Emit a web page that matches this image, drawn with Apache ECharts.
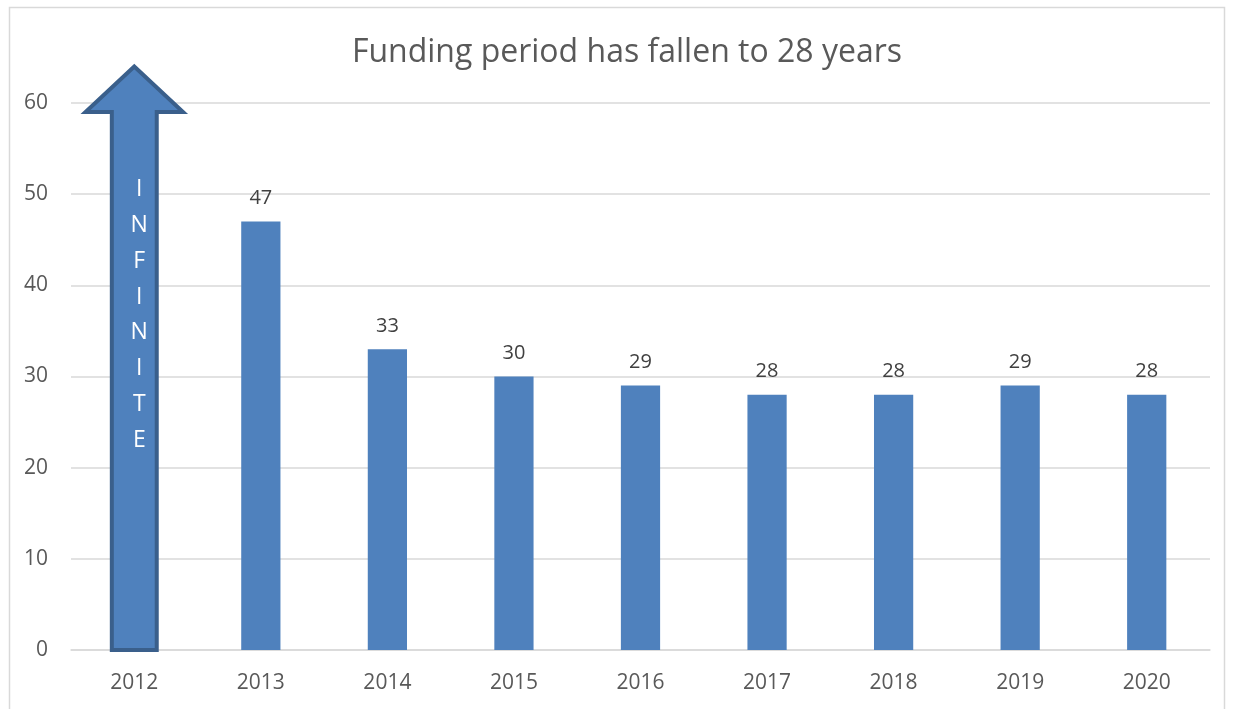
<!DOCTYPE html>
<html>
<head>
<meta charset="utf-8">
<script src="https://cdn.jsdelivr.net/npm/echarts@6/dist/echarts.min.js"></script>
<style>
html,body{margin:0;padding:0;background:#fff;}
#c{width:1233px;height:709px;}
</style>
</head>
<body>
<div id="c"></div>
<script>
const titleText = 'Funding period has fallen to 28 years';
const years = ['2012','2013','2014','2015','2016','2017','2018','2019','2020'];
const periods = [null, 47, 33, 30, 29, 28, 28, 29, 28];
const yTicks = [0, 10, 20, 30, 40, 50, 60];
// "Infinite" arrow for 2012: tip value and head base value on the y scale
const infiniteYear = '2012';
const arrowTip = 64;
const arrowHeadBase = 59;
const arrowText = 'INFINITE';

const chart = echarts.init(document.getElementById('c'), null, {renderer: 'canvas'});
const FONT = '"Open Sans", "Liberation Sans", sans-serif';

chart.setOption({
  animation: false,
  backgroundColor: '#fff',
  title: {
    text: titleText,
    left: 622, top: 32, textAlign: 'center',
    textStyle: {fontFamily: FONT, fontSize: 32, fontWeight: 'normal', color: '#595959'}
  },
  graphic: [{
    type: 'rect', left: 7, top: 5, z: -1,
    shape: {width: 1215, height: 720},
    style: {fill: 'none', stroke: '#d9d9d9', lineWidth: 1.5}
  }],
  grid: {left: 71, right: 23, top: 103, bottom: 59, containLabel: false},
  xAxis: {
    type: 'category', data: years,
    axisLine: {show: true, lineStyle: {color: '#d9d9d9', width: 1.5}},
    axisTick: {show: false},
    axisLabel: {fontFamily: FONT, fontSize: 21, color: '#595959', margin: 23}
  },
  yAxis: {
    type: 'value', min: yTicks[0], max: yTicks[yTicks.length - 1], interval: 10,
    axisLine: {show: false}, axisTick: {show: false},
    axisLabel: {fontFamily: FONT, fontSize: 21, color: '#595959', margin: 23},
    splitLine: {lineStyle: {color: '#d9d9d9', width: 1.5}}
  },
  series: [{
    type: 'bar', data: periods, barWidth: '31%',
    itemStyle: {color: '#4F81BD'},
    label: {show: true, position: 'top', distance: 13, fontFamily: FONT, fontSize: 20, color: '#404040'}
  }, {
    type: 'custom', clip: false, z: 5,
    data: [[years.indexOf(infiniteYear), arrowTip, arrowHeadBase]],
    renderItem: function (params, api) {
      const idx = api.value(0);
      const base = api.coord([idx, 0]);
      const tip = api.coord([idx, api.value(1)]);
      const hb = api.coord([idx, api.value(2)]);
      const band = api.size([1, 0])[0];
      const sw = band * 0.355 / 2;
      const hw = band * 0.77 / 2;
      const cx = base[0];
      const pts = [
        [cx - sw, base[1]], [cx - sw, hb[1]], [cx - hw, hb[1]], [cx, tip[1]],
        [cx + hw, hb[1]], [cx + sw, hb[1]], [cx + sw, base[1]]
      ];
      const children = [{
        type: 'polygon', shape: {points: pts},
        style: {fill: '#4F81BD', stroke: '#3A5F8B', lineWidth: 4, lineJoin: 'miter'}
      }];
      const letters = arrowText.split('');
      const startY = api.coord([idx, 50.5])[1];
      const step = 35.8;
      letters.forEach(function (ch, i) {
        children.push({
          type: 'text',
          style: {
            x: cx + 5, y: startY + i * step, text: ch,
            fill: '#ffffff', font: '23px ' + FONT,
            align: 'center', verticalAlign: 'middle'
          }
        });
      });
      return {type: 'group', children: children};
    }
  }]
});
</script>
</body>
</html>
